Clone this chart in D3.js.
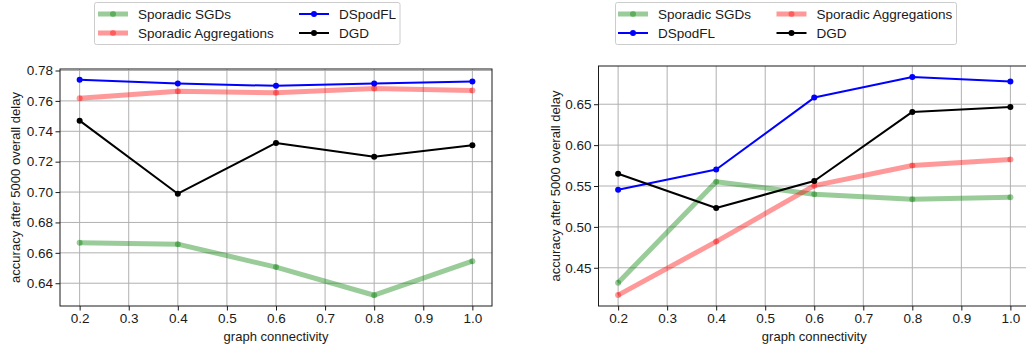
<!DOCTYPE html>
<html>
<head>
<meta charset="utf-8">
<script src="https://cdn.jsdelivr.net/npm/d3@7"></script>
<style>
  body { margin: 0; background: white; }
  svg { display: block; font-family: "Liberation Sans", Arial, sans-serif; }
</style>
</head>
<body>
<svg id="chart" width="1026" height="352"></svg>
<script>
// graph connectivity values
var connectivity = [0.2, 0.4, 0.6, 0.8, 1.0];
var xTicks = [0.2, 0.3, 0.4, 0.5, 0.6, 0.7, 0.8, 0.9, 1.0];

// left panel
var leftSGD = [0.6666, 0.6657, 0.6506, 0.6321, 0.6545];
var leftAgg = [0.7617, 0.7664, 0.7653, 0.7681, 0.7668];
var leftDSpodFL = [0.7739, 0.7714, 0.7699, 0.7714, 0.7727];
var leftDGD = [0.7470, 0.6989, 0.7323, 0.7233, 0.7308];
var leftYTicks = [0.64, 0.66, 0.68, 0.70, 0.72, 0.74, 0.76, 0.78];

// right panel
var rightSGD = [0.4317, 0.5553, 0.5399, 0.5337, 0.5362];
var rightAgg = [0.4166, 0.4820, 0.5504, 0.5750, 0.5824];
var rightDSpodFL = [0.5455, 0.5702, 0.6581, 0.6834, 0.6777];
var rightDGD = [0.5649, 0.5231, 0.5561, 0.6406, 0.6467];
var rightYTicks = [0.45, 0.50, 0.55, 0.60, 0.65];

var seriesNames = ["Sporadic SGDs", "Sporadic Aggregations", "DSpodFL", "DGD"];
var xLabel = "graph connectivity";
var yLabel = "accuracy after 5000 overall delay";

var svg = d3.select("#chart");

var styles = {
    "Sporadic SGDs": {color: "#008000", width: 5, opacity: 0.4},
    "Sporadic Aggregations": {color: "#ff0000", width: 5, opacity: 0.4},
    "DSpodFL": {color: "#0000ff", width: 2, opacity: 1},
    "DGD": {color: "#000000", width: 2, opacity: 1}
};

function drawPanel(box, series, yTicks, yFmt, legend) {
    // matplotlib style 5% margins
    var allVals = [].concat.apply([], series.map(function(s) { return s.values; }));
    var yMin = d3.min(allVals), yMax = d3.max(allVals);
    var yPad = (yMax - yMin) * 0.05;
    var xPad = (d3.max(connectivity) - d3.min(connectivity)) * 0.05;

    var x = d3.scaleLinear()
        .domain([d3.min(connectivity) - xPad, d3.max(connectivity) + xPad])
        .range([box.left, box.right]);
    var y = d3.scaleLinear()
        .domain([yMin - yPad, yMax + yPad])
        .range([box.bottom, box.top]);

    var g = svg.append("g");

    // grid
    g.selectAll("line.vgrid").data(xTicks).enter().append("line")
        .attr("x1", function(d) { return x(d); })
        .attr("x2", function(d) { return x(d); })
        .attr("y1", box.top).attr("y2", box.bottom)
        .attr("stroke", "#b0b0b0").attr("stroke-width", 1);
    g.selectAll("line.hgrid").data(yTicks).enter().append("line")
        .attr("y1", function(d) { return y(d); })
        .attr("y2", function(d) { return y(d); })
        .attr("x1", box.left).attr("x2", box.right)
        .attr("stroke", "#b0b0b0").attr("stroke-width", 1);

    // lines
    var line = d3.line()
        .x(function(d, i) { return x(connectivity[i]); })
        .y(function(d) { return y(d); });

    series.forEach(function(s) {
        var st = styles[s.name];
        g.append("path")
            .datum(s.values)
            .attr("d", line)
            .attr("fill", "none")
            .attr("stroke", st.color)
            .attr("stroke-width", st.width)
            .attr("stroke-opacity", st.opacity)
            .attr("stroke-linejoin", "round");
        g.selectAll(null).data(s.values).enter().append("circle")
            .attr("cx", function(d, i) { return x(connectivity[i]); })
            .attr("cy", function(d) { return y(d); })
            .attr("r", 3)
            .attr("fill", st.color)
            .attr("fill-opacity", st.opacity);
    });

    // axes
    var xAxis = g.append("g")
        .attr("transform", "translate(0," + box.bottom + ")")
        .call(d3.axisBottom(x).tickValues(xTicks).tickFormat(d3.format(".1f")).tickSizeOuter(0).tickSize(4.5).tickPadding(3));
    var yAxis = g.append("g")
        .attr("transform", "translate(" + box.left + ",0)")
        .call(d3.axisLeft(y).tickValues(yTicks).tickFormat(d3.format(yFmt)).tickSizeOuter(0).tickSize(4.5).tickPadding(2.5));
    [xAxis, yAxis].forEach(function(a) {
        a.select(".domain").remove();
        a.selectAll("text").attr("font-size", "13.5px").attr("fill", "#1a1a1a")
            .attr("font-family", "Liberation Sans, Arial, sans-serif");
        a.selectAll("line").attr("stroke", "#1a1a1a");
    });

    g.append("rect")
        .attr("x", box.left).attr("y", box.top)
        .attr("width", box.right - box.left).attr("height", box.bottom - box.top)
        .attr("fill", "none").attr("stroke", "#1a1a1a").attr("stroke-width", 1);

    g.append("text")
        .attr("x", (box.left + box.right) / 2)
        .attr("y", box.bottom + 35)
        .attr("text-anchor", "middle")
        .attr("font-size", "13px")
        .attr("fill", "#1a1a1a")
        .text(xLabel);
    g.append("text")
        .attr("transform", "translate(" + box.ylabelX + "," + ((box.top + box.bottom) / 2) + ") rotate(-90)")
        .attr("text-anchor", "middle")
        .attr("dy", "0.35em")
        .attr("font-size", "13px")
        .attr("fill", "#1a1a1a")
        .text(yLabel);

    // legend
    var lg = svg.append("g");
    lg.append("rect")
        .attr("x", legend.x).attr("y", legend.y)
        .attr("width", legend.w).attr("height", legend.h)
        .attr("rx", 2)
        .attr("fill", "white").attr("fill-opacity", 0.8)
        .attr("stroke", "#cccccc");
    legend.items.forEach(function(item) {
        var st = styles[item.name];
        lg.append("line")
            .attr("x1", item.x).attr("x2", item.x + 30)
            .attr("y1", item.y).attr("y2", item.y)
            .attr("stroke", st.color).attr("stroke-width", st.width)
            .attr("stroke-opacity", st.opacity);
        lg.append("circle")
            .attr("cx", item.x + 15).attr("cy", item.y).attr("r", 3)
            .attr("fill", st.color).attr("fill-opacity", st.opacity);
        lg.append("text")
            .attr("x", item.x + 40).attr("y", item.y)
            .attr("dy", "0.35em")
            .attr("font-size", "13.5px")
            .attr("fill", "#1a1a1a")
            .text(item.name);
    });
}

drawPanel(
    {left: 60, right: 492, top: 69, bottom: 306, ylabelX: 15},
    [{name: seriesNames[0], values: leftSGD},
     {name: seriesNames[1], values: leftAgg},
     {name: seriesNames[2], values: leftDSpodFL},
     {name: seriesNames[3], values: leftDGD}],
    leftYTicks, ".2f",
    {x: 94.5, y: 2.5, w: 305.5, h: 42,
     items: [{name: seriesNames[0], x: 98, y: 14},
             {name: seriesNames[1], x: 98, y: 33},
             {name: seriesNames[2], x: 299, y: 14},
             {name: seriesNames[3], x: 299, y: 33}]}
);

drawPanel(
    {left: 598.5, right: 1030, top: 66, bottom: 306, ylabelX: 555},
    [{name: seriesNames[0], values: rightSGD},
     {name: seriesNames[1], values: rightAgg},
     {name: seriesNames[2], values: rightDSpodFL},
     {name: seriesNames[3], values: rightDGD}],
    rightYTicks, ".2f",
    {x: 615.5, y: 2.5, w: 341, h: 42,
     items: [{name: seriesNames[0], x: 618, y: 14},
             {name: seriesNames[2], x: 618, y: 33},
             {name: seriesNames[1], x: 776.5, y: 14},
             {name: seriesNames[3], x: 776.5, y: 33}]}
);
</script>
</body>
</html>
